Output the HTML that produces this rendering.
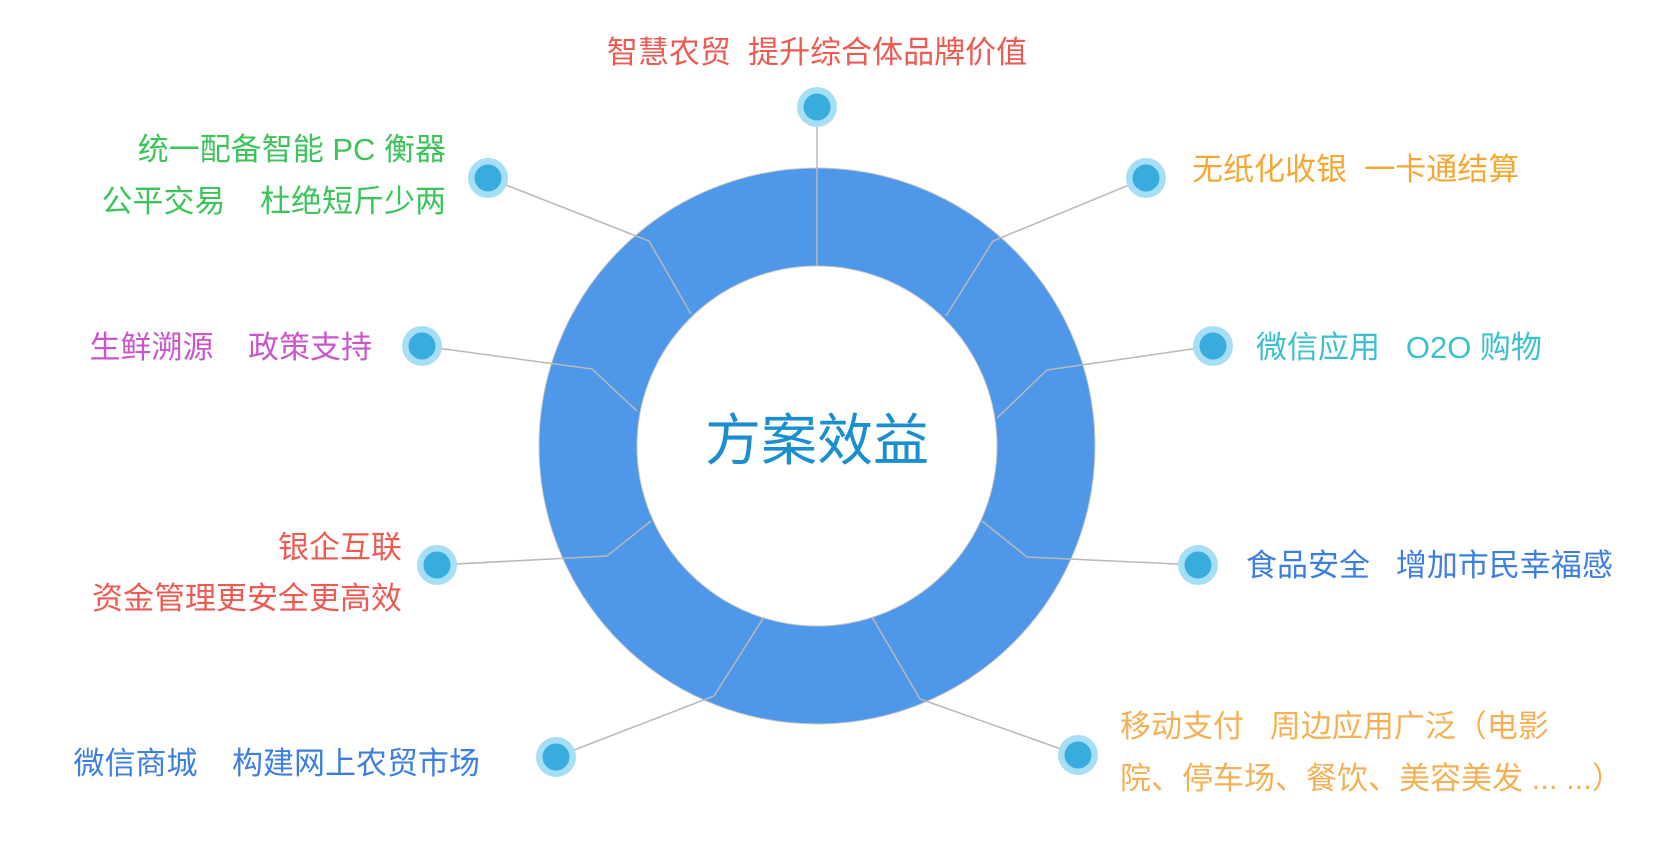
<!DOCTYPE html>
<html><head><meta charset="utf-8"><style>
html,body{margin:0;padding:0;background:#fff;}
svg{display:block}
text{font-family:"Liberation Sans","Noto Sans CJK SC",sans-serif;font-size:31px;}
</style></head><body>
<svg width="1672" height="847" viewBox="0 0 1672 847" xmlns="http://www.w3.org/2000/svg">
<g transform="translate(-4,0)">
<circle cx="821" cy="446" r="229" fill="none" stroke="#4f97e8" stroke-width="98"/>
<circle cx="821" cy="446" r="278" fill="none" stroke="#c8c8c8" stroke-width="1"/>
<circle cx="821" cy="446" r="180" fill="none" stroke="#c8c8c8" stroke-width="1"/>
<g stroke="#b8b8b8" stroke-width="1.5" fill="none">
<polyline points="821,118 821,266"/>
<polyline points="1150,178 997,241 950,316"/>
<polyline points="1217,346 1051,370 1001,418"/>
<polyline points="1202,565 1031,557 986,521"/>
<polyline points="1082,755 924,699 876,617"/>
<polyline points="560,757 718,696 768,617"/>
<polyline points="441,565 611,556 655,521"/>
<polyline points="426,346 596,369 641,411"/>
<polyline points="492,178 653,241 695,314"/>
</g>
<g>
<circle cx="821" cy="107" r="20" fill="#a6def5"/><circle cx="821" cy="107" r="13.5" fill="#38acdc"/>
<circle cx="1150" cy="178" r="20" fill="#a6def5"/><circle cx="1150" cy="178" r="13.5" fill="#38acdc"/>
<circle cx="1217" cy="346" r="20" fill="#a6def5"/><circle cx="1217" cy="346" r="13.5" fill="#38acdc"/>
<circle cx="1202" cy="565" r="20" fill="#a6def5"/><circle cx="1202" cy="565" r="13.5" fill="#38acdc"/>
<circle cx="1082" cy="755" r="20" fill="#a6def5"/><circle cx="1082" cy="755" r="13.5" fill="#38acdc"/>
<circle cx="560" cy="757" r="20" fill="#a6def5"/><circle cx="560" cy="757" r="13.5" fill="#38acdc"/>
<circle cx="441" cy="565" r="20" fill="#a6def5"/><circle cx="441" cy="565" r="13.5" fill="#38acdc"/>
<circle cx="426" cy="346" r="20" fill="#a6def5"/><circle cx="426" cy="346" r="13.5" fill="#38acdc"/>
<circle cx="492" cy="178" r="20" fill="#a6def5"/><circle cx="492" cy="178" r="13.5" fill="#38acdc"/>
</g>
<text x="821" y="460" text-anchor="middle" fill="#1a8fd0" style="font-size:56px">方案效益</text>
</g>
<text x="817" y="63" text-anchor="middle" fill="#ee5a52" xml:space="preserve">智慧农贸  提升综合体品牌价值</text>
<text x="1192" y="180" fill="#f5a733" xml:space="preserve">无纸化收银  一卡通结算</text>
<text x="1256" y="358" fill="#3cc0cf" xml:space="preserve">微信应用   O2O 购物</text>
<text x="1246" y="576" fill="#3d7fe0" xml:space="preserve">食品安全   增加市民幸福感</text>
<text x="1120" y="737" fill="#f5b055" xml:space="preserve">移动支付   周边应用广泛（电影</text>
<text x="1120" y="789" fill="#f5b055" xml:space="preserve">院、停车场、餐饮、美容美发 ... ...）</text>
<text x="480" y="774" text-anchor="end" fill="#3d7fe0" xml:space="preserve">微信商城    构建网上农贸市场</text>
<text x="402" y="558" text-anchor="end" fill="#ee5a52">银企互联</text>
<text x="402" y="609" text-anchor="end" fill="#ee5a52">资金管理更安全更高效</text>
<text x="372" y="358" text-anchor="end" fill="#cc55cc" xml:space="preserve">生鲜溯源    政策支持</text>
<text x="446" y="160" text-anchor="end" fill="#3cc45a">统一配备智能 PC 衡器</text>
<text x="446" y="212" text-anchor="end" fill="#3cc45a" xml:space="preserve">公平交易    杜绝短斤少两</text>
</svg>
</body></html>
